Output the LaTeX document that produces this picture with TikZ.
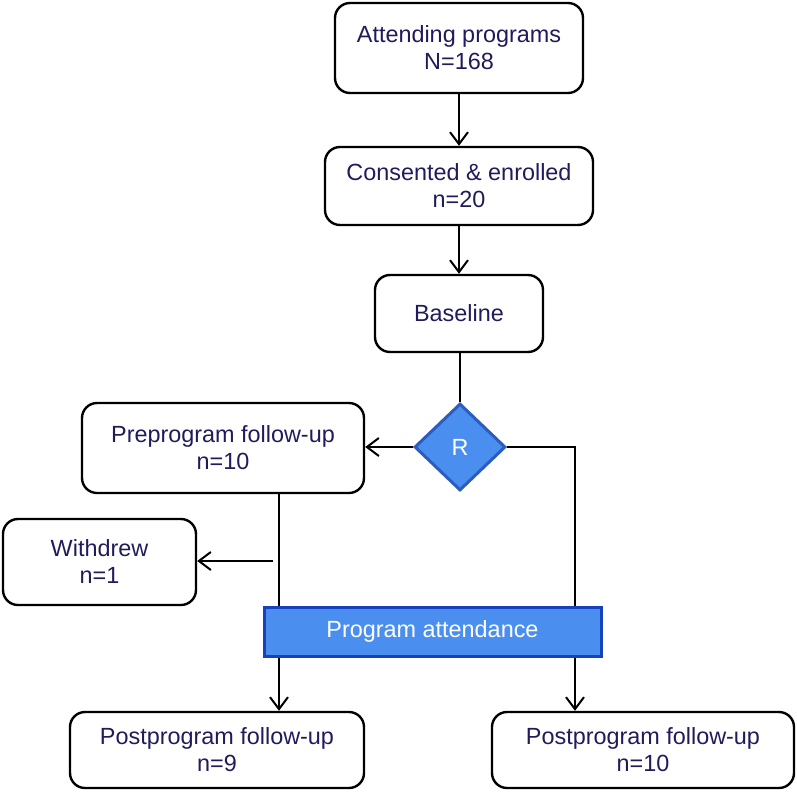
\documentclass[tikz,border=0pt]{standalone}
\usepackage{fontspec}
\setmainfont{Liberation Sans}
\usetikzlibrary{shapes.geometric,arrows.meta}
\definecolor{txtnavy}{RGB}{32,28,92}
\definecolor{blfill}{RGB}{74,142,240}
\definecolor{bldiam}{RGB}{44,92,188}
\definecolor{blbar}{RGB}{22,66,190}
\begin{document}
\begin{tikzpicture}[x=1pt,y=-1pt,
  box/.style={draw=black,line width=2.4pt,rounded corners=15pt,fill=white,
    inner sep=0pt,align=center,text=txtnavy,font=\fontsize{23.4}{27}\selectfont},
  conn/.style={line width=2pt,draw=black},
  arr/.style={conn,-{Straight Barb[length=12pt,width=18pt,line width=2pt]}},
  blue/.style={fill=blfill,text=white,inner sep=0pt,font=\fontsize{23.4}{27}\selectfont}]
\useasboundingbox (0,0) rectangle (797,792);
\node[box,minimum width=248pt,minimum height=90pt] (att) at (459,48) {Attending programs\\N=168};
\node[box,minimum width=268pt,minimum height=78pt] (cons) at (459,186) {Consented \& enrolled\\n=20};
\node[box,minimum width=168pt,minimum height=77pt] (base) at (459,313.5) {Baseline};
\node[blue,diamond,draw=bldiam,line width=3pt,minimum width=91pt,minimum height=87pt] (R) at (460,447) {R};
\node[box,minimum width=282pt,minimum height=90pt] (pre) at (223,448) {Preprogram follow-up\\n=10};
\node[box,minimum width=193pt,minimum height=86pt] (wd) at (99.5,562) {Withdrew\\n=1};
\node[blue,draw=blbar,line width=3pt,minimum width=337pt,minimum height=49pt] (bar) at (432.5,631.5) {Program attendance};
\node[box,minimum width=294pt,minimum height=76pt] (post1) at (217,750) {Postprogram follow-up\\n=9};
\node[box,minimum width=302pt,minimum height=76pt] (post2) at (643,750) {Postprogram follow-up\\n=10};
\coordinate (lx) at (279,0);
\coordinate (rx) at (575,0);
\coordinate (wx) at (273,561);
\draw[arr] (att.south) -- (att.south |- cons.north);
\draw[arr] (cons.south) -- (cons.south |- base.north);
\draw[conn] (base.south) -- (base.south -| R.north) -- (R.north);
\draw[arr] (R.west) -- (R.west -| pre.east);
\draw[conn] (R.east) -- (R.east -| rx) -- (bar.north -| rx);
\draw[conn] (pre.south -| lx) -- (bar.north -| lx);
\draw[arr] (wx) -- (wx -| wd.east);
\draw[arr] (bar.south -| lx) -- (post1.north -| lx);
\draw[arr] (bar.south -| rx) -- (post2.north -| rx);
\end{tikzpicture}
\end{document}
